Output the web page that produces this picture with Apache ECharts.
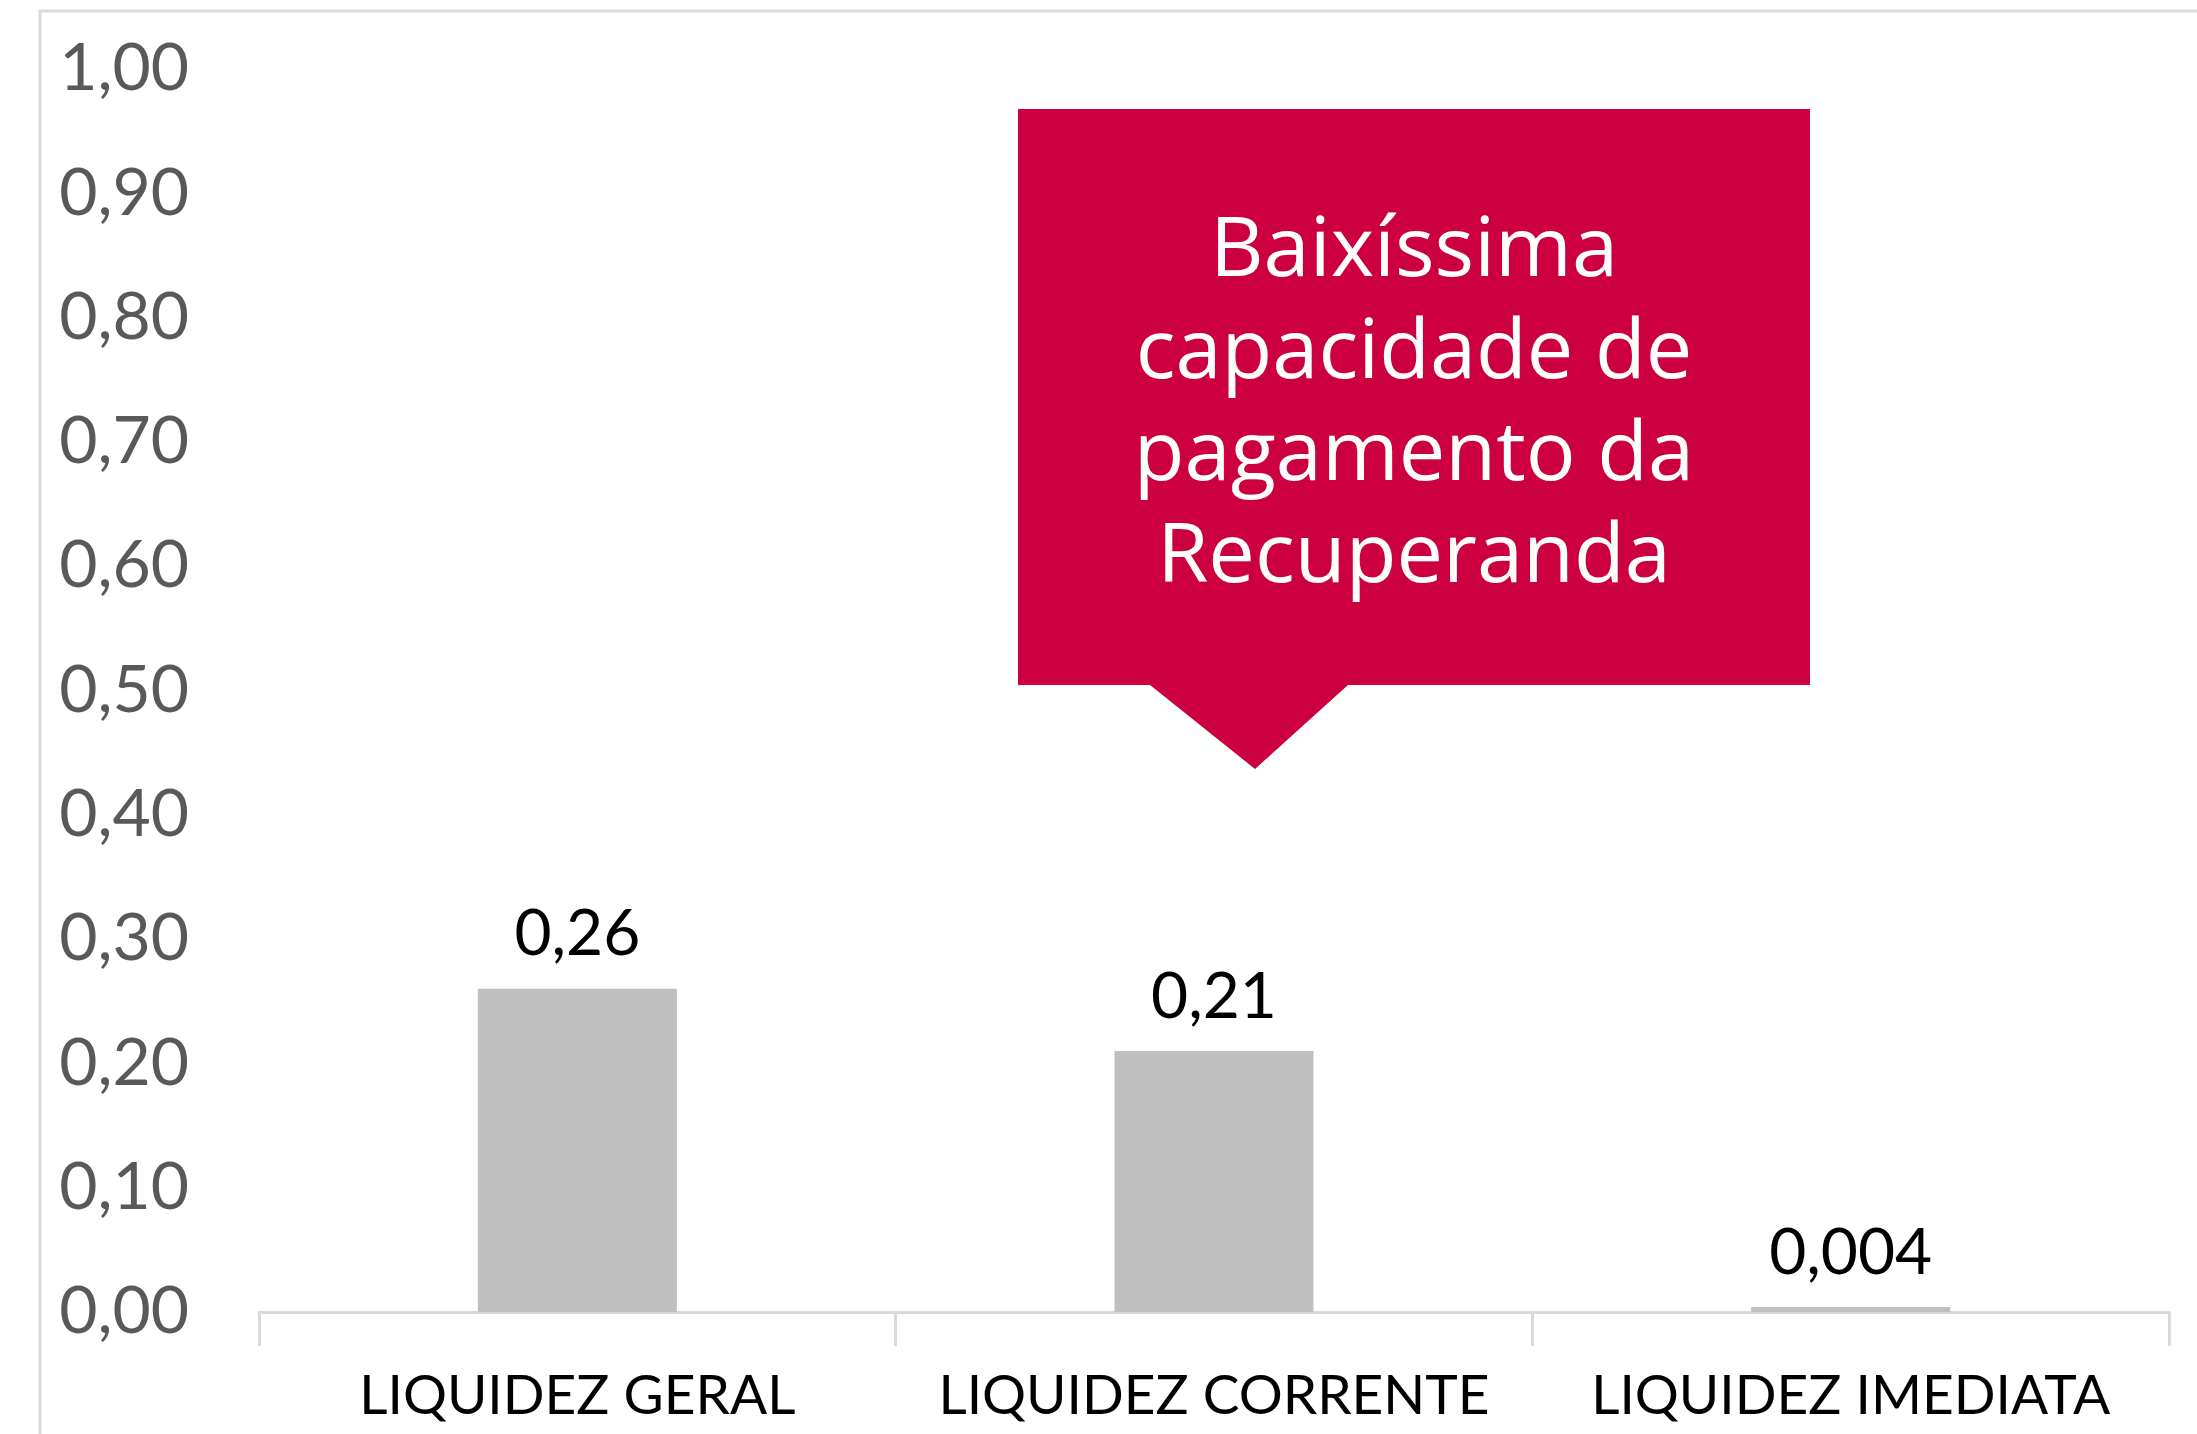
<!DOCTYPE html>
<html>
<head>
<meta charset="utf-8">
<script src="https://cdn.jsdelivr.net/npm/echarts@6/dist/echarts.min.js"></script>
<style>
  html, body { margin: 0; padding: 0; background: #fff; }
  #main { width: 2197px; height: 1434px; }
</style>
</head>
<body>
<div id="main"></div>
<script>
// dados do gráfico
var categorias = ['LIQUIDEZ GERAL', 'LIQUIDEZ CORRENTE', 'LIQUIDEZ IMEDIATA'];
var valores = [0.26, 0.21, 0.004];
var textoDestaque = ['Baixíssima', 'capacidade de', 'pagamento da', 'Recuperanda'];

var fonteEixo = 'Lato, "Noto Sans", sans-serif';

function virgula(v) {
  return String(v).replace('.', ',');
}

//renderizar gráfico de barras
function renderBar() {
  var container = document.getElementById('main');
  var myChart = echarts.init(container);
  var options = {
    backgroundColor: '#fff',
    animation: false,
    grid: {
      left: 259,
      right: 28,
      top: 69,
      bottom: 122
    },
    xAxis: {
      type: 'category',
      data: categorias,
      axisLine: { lineStyle: { color: '#d9d9d9', width: 3 } },
      axisTick: { show: true, length: 34, lineStyle: { color: '#d9d9d9', width: 3 } },
      axisLabel: {
        interval: 0,
        margin: 57,
        color: '#000',
        fontFamily: fonteEixo,
        fontSize: 55
      }
    },
    yAxis: {
      type: 'value',
      min: 0,
      max: 1,
      interval: 0.1,
      axisLine: { show: false },
      axisTick: { show: false },
      splitLine: { show: false },
      axisLabel: {
        margin: 70,
        color: '#595959',
        fontFamily: fonteEixo,
        fontSize: 66,
        formatter: function (v) { return v.toFixed(2).replace('.', ','); }
      }
    },
    series: [{
      type: 'bar',
      data: valores,
      barWidth: 199,
      itemStyle: { color: '#bfbfbf' },
      label: {
        show: true,
        position: 'top',
        distance: 22,
        color: '#000',
        fontFamily: fonteEixo,
        fontSize: 64,
        formatter: function (p) { return virgula(p.value); }
      }
    }],
    graphic: [
      {
        type: 'rect',
        shape: { x: 40, y: 11, width: 2300, height: 1600 },
        style: { fill: 'none', stroke: '#d9d9d9', lineWidth: 3 },
        silent: true
      },
      {
        type: 'polygon',
        shape: {
          points: [[1018, 109], [1810, 109], [1810, 685], [1348, 685],
                   [1255, 769], [1150, 685], [1018, 685]]
        },
        style: { fill: '#cc0040' }
      },
      {
        type: 'text',
        x: 1414,
        y: 405,
        style: {
          text: textoDestaque.join('\n'),
          fill: '#fff',
          font: '83px "Open Sans", "Noto Sans", sans-serif',
          lineHeight: 102,
          align: 'center',
          verticalAlign: 'middle'
        }
      }
    ]
  };

  myChart.setOption(options, true);
}

renderBar();
</script>
</body>
</html>
